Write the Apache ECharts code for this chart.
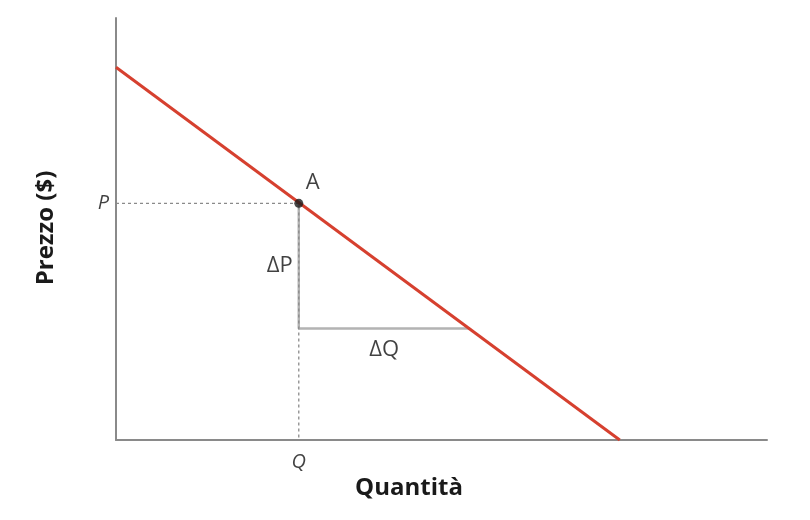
<!DOCTYPE html>
<html><head><meta charset="utf-8">
<script src="https://cdn.jsdelivr.net/npm/echarts@6/dist/echarts.min.js"></script>
<style>html,body{margin:0;padding:0;background:#fff}#c{width:810px;height:520px}</style>
</head><body><div id="c"></div>
<script>
// Data (arbitrary units)
var demandLine = [[0, 10.6], [10.06, 0]];
var pointA = [3.65, 6.73];
var lowerP = 3.17;
var upperQ = 7.06;
var xMax = 13;
var yMax = 12;
var labelP = 'P';
var labelQ = 'Q';
var labelA = 'A';
var labelDP = 'ΔP';
var labelDQ = 'ΔQ';
var xTitle = 'Quantità';
var yTitle = 'Prezzo ($)';

var font = '"Open Sans", "Noto Sans", sans-serif';
var chart = echarts.init(document.getElementById('c'));
function txt(pos, text, opts) {
  return {
    type: 'scatter', symbolSize: 0, silent: true, z: 10,
    data: [{value: pos, label: Object.assign({show: true, formatter: text, color: '#111', fontSize: 22, fontFamily: font}, opts)}]
  };
}
chart.setOption({
  animation: false,
  grid: {left: 116, right: 43, top: 18, bottom: 80},
  xAxis: {type: 'value', min: 0, max: xMax,
    axisLine: {lineStyle: {color: '#8a8a8a', width: 2}}, axisTick: {show: false}, axisLabel: {show: false}, splitLine: {show: false}},
  yAxis: {type: 'value', min: 0, max: yMax,
    axisLine: {lineStyle: {color: '#8a8a8a', width: 2}}, axisTick: {show: false}, axisLabel: {show: false}, splitLine: {show: false}},
  graphic: [
    {type: 'text', x: 409, y: 488, style: {text: xTitle, fill: '#1a1a1a', font: 'bold 24px ' + font, textAlign: 'center', textVerticalAlign: 'middle'}},
    {type: 'text', x: 46, y: 228, rotation: Math.PI / 2, style: {text: yTitle, fill: '#1a1a1a', font: 'bold 24px ' + font, textAlign: 'center', textVerticalAlign: 'middle'}}
  ],
  series: [
    {type: 'line', symbol: 'none', silent: true, z: 2,
      lineStyle: {color: '#b3b3b3', width: 2.5},
      data: [pointA, [pointA[0], lowerP], [upperQ, lowerP]]},
    {type: 'line', symbol: 'none', silent: true, z: 3,
      lineStyle: {color: '#8a8a8a', width: 1.3, type: [3, 3]},
      data: [[0, pointA[1]], pointA, [pointA[0], 0]]},
    {type: 'line', symbol: 'none', silent: true, z: 4,
      lineStyle: {color: '#d6402f', width: 3},
      data: demandLine},
    {type: 'scatter', symbol: 'circle', symbolSize: 9, silent: true, z: 5,
      itemStyle: {color: '#1a1a1a'}, data: [pointA]},
    txt([0, pointA[1]], labelP, {position: 'left', distance: 7, fontStyle: 'italic', fontSize: 20}),
    txt([pointA[0], 0], labelQ, {position: 'bottom', distance: 12, fontStyle: 'italic', fontSize: 20}),
    txt(pointA, labelA, {position: 'right', offset: [2, -21]}),
    txt([pointA[0], (pointA[1] + lowerP) / 2], labelDP, {position: 'left', distance: 6}),
    txt([(pointA[0] + upperQ) / 2, lowerP], labelDQ, {position: 'bottom', distance: 10})
  ]
});
</script></body></html>
